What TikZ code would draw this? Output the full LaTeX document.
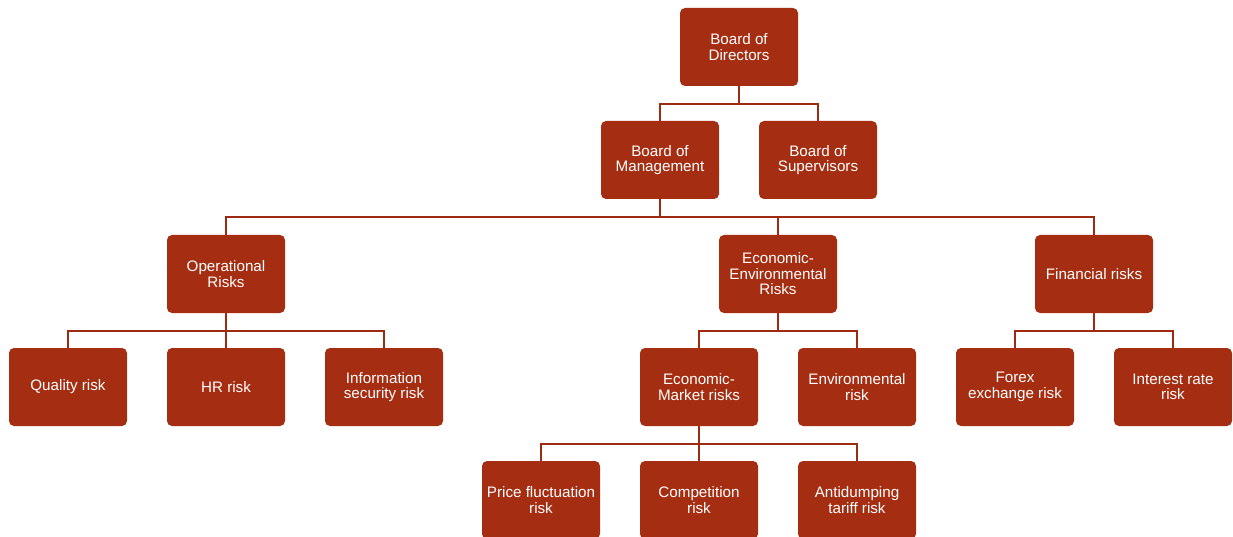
\documentclass[tikz,border=0pt]{standalone}
\usepackage{fontspec}
\setmainfont{Liberation Sans}
\definecolor{boxred}{RGB}{165,46,18}
\definecolor{linered}{RGB}{158,42,18}
\begin{document}
\begin{tikzpicture}[x=1pt,y=-1pt,
  rbox/.style={draw=none, fill=boxred, rounded corners=5pt, minimum width=118pt, minimum height=78pt,
    text=white, align=center, inner sep=1pt, font=\fontsize{15.2}{15.5}\selectfont},
  link/.style={draw=linered, line width=2.3pt}]
\useasboundingbox (0,0) rectangle (1233,537);
\clip (0,0) rectangle (1233,537);
\fill[white] (0,0) rectangle (1233,537);
% row 1
\node[rbox] (bod) at (739,47) {Board of\\Directors};
% row 2
\node[rbox] (bom) at (660,160) {Board of\\Management};
\node[rbox] (bos) at (818,160) {Board of\\Supervisors};
% row 3
\node[rbox] (ops) at (226,274) {Operational\\Risks};
\node[rbox] (eer) at (778,274) {Economic-\\Environmental\\Risks};
\node[rbox] (fin) at (1094,274) {Financial risks};
% row 4
\node[rbox] (qual) at (68,387) {Quality risk};
\node[rbox] (hr) at (226,387) {HR risk};
\node[rbox] (info) at (384,387) {Information\\security risk};
\node[rbox] (emr) at (699,387) {Economic-\\Market risks};
\node[rbox] (env) at (857,387) {Environmental\\risk};
\node[rbox] (fx) at (1015,387) {Forex\\exchange risk};
\node[rbox] (ir) at (1173,387) {Interest rate\\risk};
% row 5
\node[rbox] (price) at (541,500) {Price fluctuation\\risk};
\node[rbox] (comp) at (699,500) {Competition\\risk};
\node[rbox] (anti) at (857,500) {Antidumping\\tariff risk};
% connectors
\foreach \p/\c in {bod/bom,bod/bos,bom/ops,bom/eer,bom/fin,ops/qual,ops/hr,ops/info,eer/emr,eer/env,fin/fx,fin/ir,emr/price,emr/comp,emr/anti}
  \draw[link] (\p.south) -- ++(0,17.5) -| (\c.north);
\end{tikzpicture}
\end{document}
